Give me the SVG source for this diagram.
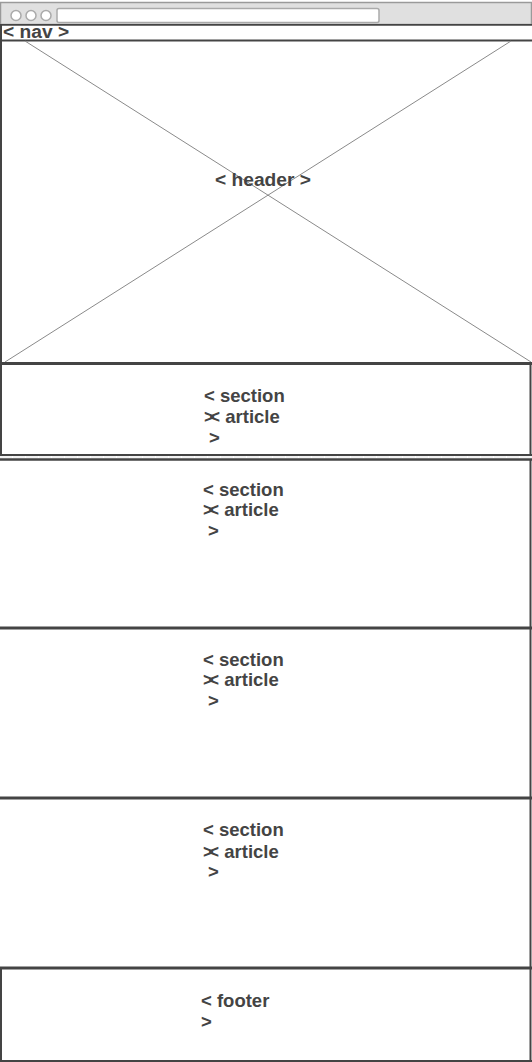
<svg xmlns="http://www.w3.org/2000/svg" width="532" height="1062" viewBox="0 0 532 1062">
<style>
.t{font-family:"Liberation Sans",Arial,sans-serif;font-weight:bold;font-size:18.5px;fill:#444}
.big{font-size:19.2px}
.b{stroke:#444;fill:none}
.d{stroke:#8a8a8a;stroke-width:1;fill:none}
</style>
<rect width="532" height="1062" fill="#fff"/>
<g id="browser">
<rect x="0.5" y="2.5" width="531" height="22" fill="#e0e0e0" stroke="#9a9a9a" stroke-width="1.5"/>
<circle cx="16" cy="15.5" r="5" fill="#fff" stroke="#aaa" stroke-width="1.5"/>
<circle cx="31" cy="15.5" r="5" fill="#fff" stroke="#aaa" stroke-width="1.5"/>
<circle cx="46" cy="15.5" r="5" fill="#fff" stroke="#aaa" stroke-width="1.5"/>
<rect x="57" y="8.5" width="322" height="14" rx="2" fill="#fff" stroke="#aaa" stroke-width="1.5"/>
</g>
<g id="nav">
<rect x="0" y="24" width="532" height="17" fill="#fff"/>
<line class="b" x1="0" y1="24.8" x2="532" y2="24.8" stroke-width="1.8"/>
<line class="b" x1="0" y1="40.5" x2="532" y2="40.5" stroke-width="1.8"/>
<line class="b" x1="1" y1="24" x2="1" y2="41" stroke-width="2"/>
<text class="t big" x="3" y="38">&lt; nav &gt;</text>
</g>
<g id="header">
<line class="d" x1="25" y1="41" x2="531" y2="362"/>
<line class="d" x1="511" y1="41" x2="5" y2="362"/>
<line class="b" x1="1" y1="40" x2="1" y2="364" stroke-width="2"/>
<text class="t big" x="263" y="186" text-anchor="middle">&lt; header &gt;</text>
</g>
<g id="section1">
<line class="b" x1="0" y1="363.5" x2="532" y2="363.5" stroke-width="3"/>
<line class="b" x1="1" y1="363" x2="1" y2="456" stroke-width="2"/>
<line class="b" x1="530.5" y1="363" x2="530.5" y2="456" stroke-width="2"/>
<line class="b" x1="0" y1="455" x2="532" y2="455" stroke-width="2"/>
<text class="t" x="204" y="402">&lt; section</text>
<text class="t" x="204" y="423">&gt;<tspan dx="-5.5">&lt;</tspan> article</text>
<text class="t" x="209" y="444">&gt;</text>
</g>
<line x1="0" y1="457" x2="532" y2="457" stroke="#e6e6e6" stroke-width="1" stroke-dasharray="12,1"/>
<g id="section2">
<line class="b" x1="0" y1="459.5" x2="532" y2="459.5" stroke-width="2.5"/>
<line class="b" x1="530.5" y1="459" x2="530.5" y2="628" stroke-width="2"/>
<text class="t" x="203" y="496">&lt; section</text>
<text class="t" x="203" y="516">&gt;<tspan dx="-5.5">&lt;</tspan> article</text>
<text class="t" x="208" y="537">&gt;</text>
</g>
<g id="section3">
<line class="b" x1="0" y1="628" x2="532" y2="628" stroke-width="3"/>
<line class="b" x1="530.5" y1="628" x2="530.5" y2="798" stroke-width="2"/>
<text class="t" x="203" y="666">&lt; section</text>
<text class="t" x="203" y="686">&gt;<tspan dx="-5.5">&lt;</tspan> article</text>
<text class="t" x="208" y="707">&gt;</text>
</g>
<g id="section4">
<line class="b" x1="0" y1="798" x2="532" y2="798" stroke-width="3"/>
<line class="b" x1="530.5" y1="798" x2="530.5" y2="968" stroke-width="2"/>
<text class="t" x="203" y="836">&lt; section</text>
<text class="t" x="203" y="858">&gt;<tspan dx="-5.5">&lt;</tspan> article</text>
<text class="t" x="208" y="878">&gt;</text>
</g>
<g id="footer">
<line class="b" x1="0" y1="968" x2="532" y2="968" stroke-width="3"/>
<line class="b" x1="1" y1="968" x2="1" y2="1062" stroke-width="2"/>
<line class="b" x1="530.5" y1="968" x2="530.5" y2="1062" stroke-width="2"/>
<line class="b" x1="0" y1="1061" x2="532" y2="1061" stroke-width="2"/>
<text class="t" x="201" y="1007">&lt; footer</text>
<text class="t" x="201" y="1028">&gt;</text>
</g>
</svg>
